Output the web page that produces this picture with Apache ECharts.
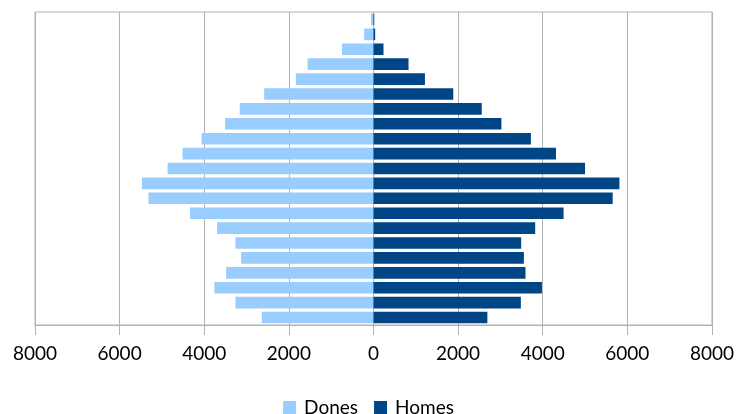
<!DOCTYPE html>
<html>
<head>
<meta charset="utf-8">
<script src="https://cdn.jsdelivr.net/npm/echarts@6/dist/echarts.min.js"></script>
<style>html,body{margin:0;padding:0;background:#fff}#c{width:737px;height:414px}</style>
</head>
<body>
<div id="c"></div>
<script>
const categories = ['1','2','3','4','5','6','7','8','9','10','11','12','13','14','15','16','17','18','19','20','21'];
const dones = [60, 220, 745, 1557, 1834, 2583, 3161, 3507, 4062, 4512, 4867, 5474, 5318, 4337, 3697, 3263, 3128, 3483, 3761, 3263, 2640];
const homes = [20, 40, 237, 829, 1216, 1886, 2559, 3024, 3720, 4313, 5000, 5813, 5654, 4493, 3822, 3491, 3555, 3593, 3981, 3483, 2692];
const xTicks = {min: -8000, max: 8000, interval: 2000};

const chart = echarts.init(document.getElementById('c'), null, {renderer: 'canvas'});
chart.setOption({
  animation: false,
  textStyle: {fontFamily: 'Lato'},
  grid: {left: 35, right: 24, top: 12, bottom: 89, show: true, borderColor: '#b3b3b3', borderWidth: 1},
  legend: {
    top: 398, left: 'center', padding: 0, icon: 'rect', itemWidth: 13, itemHeight: 13, itemGap: 16,
    textStyle: {fontSize: 19, lineHeight: 19, color: '#000', fontFamily: 'Lato', padding: [0, 0, 0, 3]},
    data: ['Dones', 'Homes']
  },
  xAxis: {
    type: 'value', min: xTicks.min, max: xTicks.max, interval: xTicks.interval,
    axisLine: {show: true, lineStyle: {color: '#b3b3b3'}},
    axisTick: {show: true, length: 10, lineStyle: {color: '#b3b3b3'}},
    splitLine: {show: true, lineStyle: {color: '#b3b3b3'}},
    axisLabel: {color: '#000', fontSize: 19, margin: 19, fontFamily: 'Lato', formatter: v => String(Math.abs(v))}
  },
  yAxis: {
    type: 'category', data: categories, inverse: true,
    axisLine: {show: false}, axisTick: {show: false}, axisLabel: {show: false}, splitLine: {show: false}
  },
  series: [
    {name: 'Dones', type: 'bar', data: dones.map(v => -v), itemStyle: {color: '#99ccff'}, barCategoryGap: '22%', barGap: '-100%'},
    {name: 'Homes', type: 'bar', data: homes, itemStyle: {color: '#004586'}, barCategoryGap: '22%', barGap: '-100%'}
  ]
});
</script>
</body>
</html>
